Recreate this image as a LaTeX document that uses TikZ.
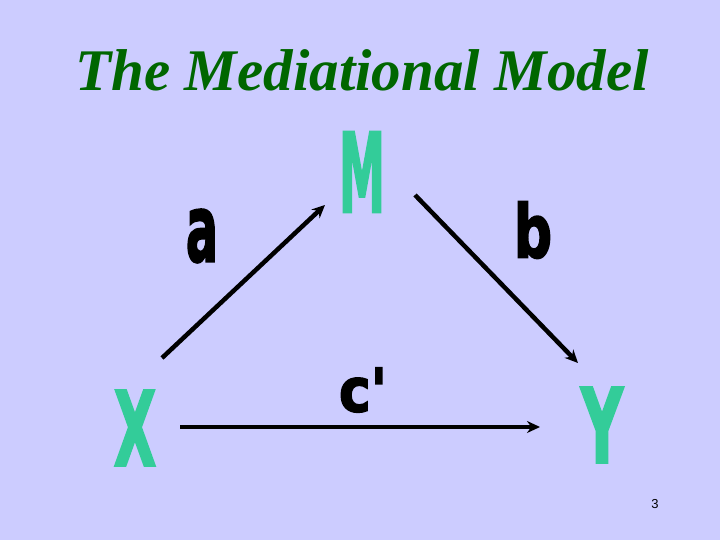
\documentclass[tikz,border=0pt]{standalone}
\usepackage{fontspec}
\setmainfont{Liberation Serif}
\newfontfamily\heavy[FakeBold=2.5]{DejaVu Sans Condensed Bold}
\newfontfamily\plainsans{Liberation Sans}
\usetikzlibrary{arrows.meta}
\definecolor{bg}{HTML}{CCCCFF}
\definecolor{ttl}{HTML}{006600}
\definecolor{var}{HTML}{33CC99}
\begin{document}
\begin{tikzpicture}[x=1pt,y=1pt,
  varl/.style={text=var,inner sep=0pt,font=\heavy},
  coef/.style={text=black,inner sep=0pt,font=\heavy},
  arr/.style={line width=4.5pt,-{Stealth[length=13pt,width=12pt]}}]
\fill[bg] (0,0) rectangle (720,540);
\useasboundingbox (0,0) rectangle (720,540);
\node[text=ttl,font=\fontsize{59}{66}\selectfont\bfseries\itshape] (title) at (362,470) {The Mediational Model};
\node[varl] (M) at (362,368) {\resizebox{46pt}{80pt}{M}};
\node[varl] (X) at (135,112) {\resizebox{42pt}{75pt}{X}};
\node[varl] (Y) at (602,115) {\resizebox{42pt}{75pt}{Y}};
\node[coef] (a) at (202,304) {\resizebox{32pt}{52pt}{a}};
\node[coef] (b) at (533,310) {\resizebox{38pt}{56pt}{b}};
\node[coef] (c) at (363,150) {\resizebox{48pt}{44pt}{c'}};
\coordinate (a1) at (162,182); \coordinate (a2) at (325,335);
\coordinate (b1) at (415,345); \coordinate (b2) at (578,177);
\coordinate (c1) at (180,113); \coordinate (c2) at (540,113);
\draw[arr] (a1) -- (a2);
\draw[arr] (b1) -- (b2);
\draw[arr] (c1) -- (c2);
\node[font=\plainsans\fontsize{13}{15}\selectfont] (n) at (655,36) {3};
\end{tikzpicture}
\end{document}
